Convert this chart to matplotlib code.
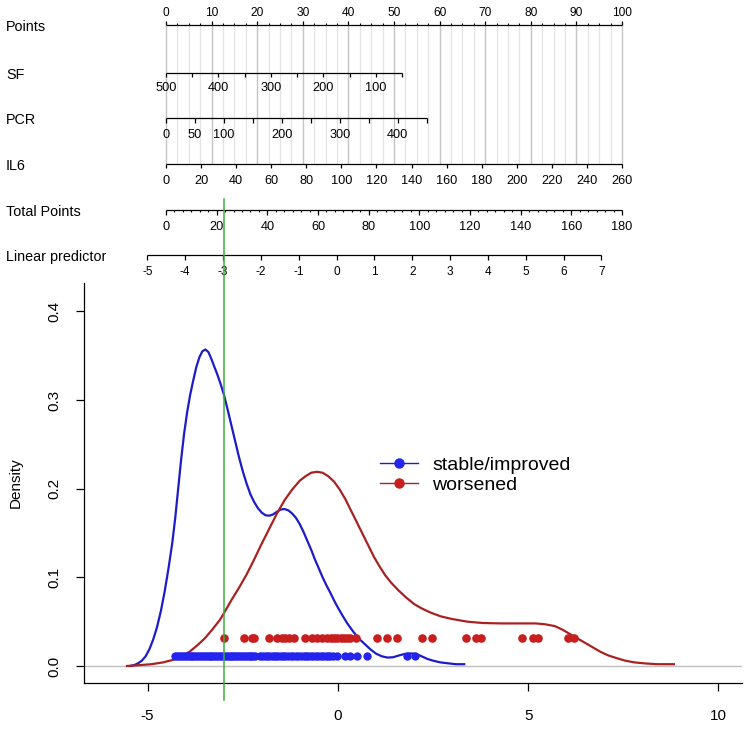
import numpy as np
import matplotlib.pyplot as plt
from matplotlib.transforms import blended_transform_factory
from matplotlib.lines import Line2D

plt.rcParams['font.family'] = ['Liberation Sans', 'DejaVu Sans']
plt.rcParams['axes.unicode_minus'] = False

# ---- nomogram scales (value -> points) ----
points_ticks = list(range(0, 101, 10))
sf_ticks = [500, 450, 400, 350, 300, 250, 200, 150, 100, 50]
sf_labels = ['500', '', '400', '', '300', '', '200', '', '100', '']
sf_scale = (500, 50)
sf_scale_pts = (0, 51.8)
pcr_ticks = [0, 50, 100, 150, 200, 250, 300, 350, 400, 450]
pcr_labels = ['0', '50', '100', '', '200', '', '300', '', '400', '']
pcr_scale = (0, 450)
pcr_scale_pts = (0, 57.2)
il6_ticks = list(range(0, 261, 20))
il6_scale = (0, 260)
il6_scale_pts = (0, 100)
total_ticks = list(range(0, 181, 20))
total_scale = (0, 180)
total_scale_pts = (0, 100)
lp_ticks = list(range(-5, 8))
lp_scale = (-5, 7)
lp_scale_pts = (-4.1, 95.5)
cutoff_lp = -3

# ---- density curves ----
blue_x = [-5.45, -5.35, -5.25, -5.15, -5.05, -4.95, -4.85, -4.75, -4.65, -4.55, -4.45,
          -4.35, -4.27, -4.2, -4.12, -4.04, -3.96, -3.88, -3.8, -3.72, -3.64, -3.56,
          -3.48, -3.4, -3.32, -3.24, -3.16, -3.08, -3.0, -2.9, -2.8, -2.7, -2.6, -2.5,
          -2.4, -2.3, -2.2, -2.1, -2.0, -1.9, -1.8, -1.7, -1.6, -1.5, -1.4, -1.3, -1.2,
          -1.1, -1.0, -0.9, -0.8, -0.7, -0.6, -0.5, -0.4, -0.3, -0.19, -0.1, 0.0, 0.12,
          0.25, 0.4, 0.55, 0.7, 0.85, 1.0, 1.15, 1.3, 1.45, 1.6, 1.75, 1.9, 2.04, 2.2,
          2.35, 2.5, 2.7, 2.9, 3.1, 3.32]
blue_y = [0.0, 0.001, 0.003, 0.006, 0.011, 0.019, 0.030, 0.044, 0.062, 0.084, 0.11,
          0.139, 0.168, 0.198, 0.232, 0.262, 0.286, 0.306, 0.322, 0.337, 0.348, 0.355,
          0.357, 0.354, 0.346, 0.337, 0.328, 0.318, 0.307, 0.290, 0.272, 0.254, 0.236, 0.220,
          0.206, 0.194, 0.185, 0.178, 0.173, 0.170, 0.1695, 0.171, 0.174, 0.1765, 0.177,
          0.1755, 0.172, 0.167, 0.160, 0.151, 0.141, 0.131, 0.120, 0.110, 0.100, 0.091,
          0.082, 0.074, 0.066, 0.057, 0.048, 0.039, 0.031, 0.025, 0.019, 0.014, 0.011,
          0.0095, 0.0098, 0.0118, 0.0135, 0.0142, 0.0138, 0.011, 0.008, 0.006, 0.004,
          0.003, 0.002, 0.002]
red_x = [-5.54, -5.2, -4.9, -4.6, -4.32, -4.1, -3.9, -3.7, -3.5, -3.3, -3.1, -3.0, -2.8,
         -2.6, -2.4, -2.2, -2.0, -1.8, -1.6, -1.4, -1.2, -1.0, -0.85, -0.7, -0.55, -0.4,
         -0.25, -0.1, 0.05, 0.2, 0.35, 0.5, 0.65, 0.8, 0.95, 1.1, 1.25, 1.4, 1.6, 1.8,
         2.0, 2.2, 2.45, 2.7, 3.0, 3.4, 3.8, 4.3, 4.8, 5.2, 5.45, 5.7, 5.9, 6.1, 6.3, 6.5,
         6.7, 6.9, 7.1, 7.3, 7.55, 7.8, 8.1, 8.4, 8.83]
red_y = [0.0, 0.001, 0.002, 0.004, 0.007, 0.011, 0.016, 0.023, 0.031, 0.041, 0.052, 0.059,
         0.074, 0.088, 0.103, 0.12, 0.138, 0.155, 0.172, 0.187, 0.199, 0.209, 0.214, 0.218,
         0.219, 0.218, 0.214, 0.208, 0.199, 0.188, 0.175, 0.162, 0.149, 0.136, 0.123,
         0.112, 0.102, 0.094, 0.085, 0.077, 0.070, 0.065, 0.060, 0.056, 0.053, 0.050,
         0.0485, 0.048, 0.048, 0.048, 0.047, 0.045, 0.041, 0.036, 0.031, 0.026, 0.021,
         0.016, 0.012, 0.0092, 0.006, 0.004, 0.0028, 0.002, 0.002]

# ---- individual linear predictor values (rug dots) ----
blue_pts = [-4.27, -4.22, -4.17, -4.12, -4.07, -4.02, -3.97, -3.92, -3.87, -3.82, -3.77,
            -3.72, -3.67, -3.62, -3.57, -3.52, -3.47, -3.42, -3.37, -3.32, -3.27, -3.22,
            -3.17, -3.12, -3.07, -3.02, -2.97, -2.92, -2.87, -2.82, -2.77, -2.72, -2.67,
            -2.62, -2.57, -2.52, -2.47, -2.42, -2.37, -2.32, -2.27, -2.22, -2.17,
            -2.04, -1.98, -1.92, -1.86, -1.80, -1.74, -1.68, -1.62, -1.56, -1.50, -1.44,
            -1.38, -1.30, -1.24, -1.18, -1.10, -1.04, -0.98, -0.90, -0.84, -0.78, -0.70,
            -0.64, -0.58, -0.52, -0.45, -0.38, -0.32, -0.26, -0.20, -0.14,
            -0.02, 0.20, 0.33, 0.51, 0.77, 1.83, 2.04]
red_pts = [-3.0, -2.47, -2.25, -2.21, -1.82, -1.60, -1.46, -1.38, -1.29, -1.16, -0.85,
           -0.67, -0.54, -0.41, -0.28, -0.19, -0.10, -0.02, 0.07, 0.16, 0.25, 0.33, 0.47,
           1.04, 1.30, 1.56, 2.22, 2.48, 3.36, 3.62, 3.76, 4.85, 5.12, 5.25, 6.04, 6.21]
blue_level = 0.0113
red_level = 0.031


def lin(v, scale, pts):
    v = np.asarray(v, dtype=float)
    return pts[0] + (v - scale[0]) * (pts[1] - pts[0]) / (scale[1] - scale[0])


fig = plt.figure(figsize=(7.47, 7.29), dpi=100)

# nomogram axes: x in points, y in pixels from top
nom = fig.add_axes([0, 0, 1, 1])
nom.set_xlim(-166 / 4.56, (747 - 166) / 4.56)
nom.set_ylim(729, 0)
nom.axis('off')

label_x = (6 - 166) / 4.56

# vertical reference lines
grid = np.arange(0, 100.01, 2.5)
nom.vlines([g for g in grid if g % 10 != 0], 25, 163.5, color='#e3e3e3', lw=0.9, zorder=0)
nom.vlines([g for g in grid if g % 10 == 0], 25, 163.5, color='#c4c4c4', lw=1.0, zorder=0)


def scale_row(name, y, pos, labels, minor=(), up=False, fs=9, off=16, tick=4.5):
    allpos = list(pos) + list(minor)
    nom.plot([min(allpos), max(allpos)], [y, y], color='black', lw=0.9,
             solid_capstyle='butt')
    d = -1 if up else 1
    nom.vlines(pos, y, y + d * tick, color='black', lw=0.9)
    if len(minor):
        nom.vlines(minor, y, y + d * tick * 0.5, color='black', lw=0.8)
    for p, lab in zip(pos, labels):
        if lab:
            nom.text(p, y + d * off, lab, ha='center', va='center', fontsize=fs)
    nom.text(label_x, y + 2, name, ha='left', va='center', fontsize=10.4)


pts_minor = [g for g in grid if g % 10 != 0]
scale_row('Points', 25, points_ticks, [str(t) for t in points_ticks], pts_minor,
          up=True, fs=8.6, off=12.5, tick=4)
scale_row('SF', 72.7, lin(sf_ticks, sf_scale, sf_scale_pts), sf_labels, fs=9.2, off=15.6)
scale_row('PCR', 118.3, lin(pcr_ticks, pcr_scale, pcr_scale_pts), pcr_labels, fs=9.2, off=17)
scale_row('IL6', 163.5, lin(il6_ticks, il6_scale, il6_scale_pts),
          [str(t) for t in il6_ticks], fs=9.2, off=17.2)
tot_minor = [m for m in np.arange(0, 180.01, 20 / 6) if abs(m / 20 - round(m / 20)) > 1e-6]
scale_row('Total Points', 210, lin(total_ticks, total_scale, total_scale_pts),
          [str(t) for t in total_ticks], lin(tot_minor, total_scale, total_scale_pts),
          fs=9.2, off=16.7)
scale_row('Linear predictor', 255, lin(lp_ticks, lp_scale, lp_scale_pts),
          [str(t) for t in lp_ticks], fs=8.5, off=17)

# ---- density plot ----
ax = fig.add_axes([84 / 747, 46 / 729, 658 / 747, 400 / 729])
ax.set_xlim(-6.67, 10.62)
ax.set_ylim(-0.0192, 0.432)
ax.axhline(0, color='#bebebe', lw=1.0, zorder=1)
ax.plot(blue_x, blue_y, color='#1c1cc8', lw=1.6, zorder=3)
ax.plot(red_x, red_y, color='#a82222', lw=1.6, zorder=3)
ax.plot(blue_pts, [blue_level] * len(blue_pts), 'o', color='#2424ee', ms=6,
        mec='none', zorder=4)
ax.plot(red_pts, [red_level] * len(red_pts), 'o', color='#c81e1e', ms=6.2,
        mec='none', zorder=4)

tr = blended_transform_factory(ax.transData, fig.transFigure)
ax.plot([cutoff_lp, cutoff_lp], [1 - 199 / 729, 1 - 700 / 729], color='#3cae3c',
        lw=1.1, transform=tr, clip_on=False, zorder=5)

for s in ['top', 'right']:
    ax.spines[s].set_visible(False)
for s in ['left', 'bottom']:
    ax.spines[s].set_linewidth(0.9)
ax.set_xticks([-5, 0, 5, 10])
ax.set_yticks([0.0, 0.1, 0.2, 0.3, 0.4])
ax.set_yticklabels(['0.0', '0.1', '0.2', '0.3', '0.4'], rotation=90, va='center')
ax.tick_params(axis='both', direction='out', length=6, width=0.9, labelsize=11)
ax.tick_params(axis='y', pad=10.5)
ax.tick_params(axis='x', pad=13)
ax.set_ylabel('Density', fontsize=11, labelpad=17.5)

handles = [Line2D([], [], color='#1c1cc8', lw=1, marker='o', ms=6.5, mfc='#2424ee', mec='#2424ee'),
           Line2D([], [], color='#a82222', lw=1, marker='o', ms=6.5, mfc='#c81e1e', mec='#c81e1e')]
ax.legend(handles, ['stable/improved', 'worsened'], loc='center left',
          bbox_to_anchor=(0.45, 0.52), frameon=False, fontsize=14, handlelength=1.97,
          handletextpad=0.7, borderpad=0, borderaxespad=0, labelspacing=0.1)

fig.savefig('out.png', dpi=100)
